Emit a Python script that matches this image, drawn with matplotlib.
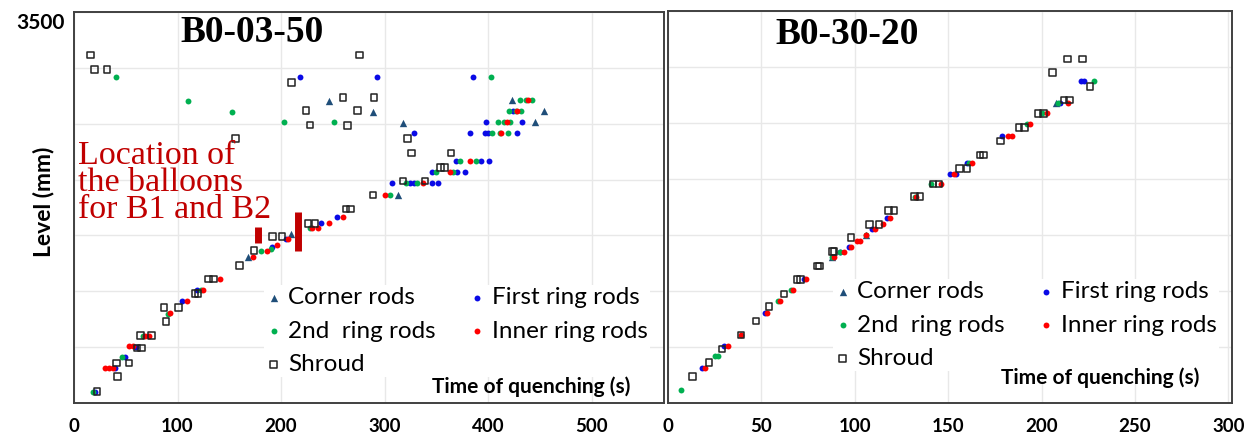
import matplotlib.pyplot as plt

# ---- B0-03-50 (left) : time of quenching (s) / level (mm) ----
corner_a_t = [168, 210, 313, 318, 246, 289, 423, 454, 445]
corner_a_z = [1304, 1512, 1862, 2503, 2706, 2607, 2712, 2613, 2512]

first_a_t = [20, 40, 49, 60, 104, 119, 191, 205, 239, 254, 307, 325, 328, 346, 352, 346,
             370, 378, 369, 393, 401, 328, 383, 397, 400, 428, 398, 433, 424, 218, 293, 385]
first_a_z = [101, 310, 414, 500, 916, 1010, 1400, 1465, 1608, 1662, 1966, 1966, 1966, 1966,
             1966, 2065, 2065, 2065, 2169, 2169, 2169, 2420, 2413, 2413, 2413, 2413, 2512,
             2512, 2613, 2920, 2920, 2920]

second_a_t = [18, 46, 67, 91, 123, 181, 190, 228, 305, 321, 331, 350, 366, 373, 388, 404, 412,
              419, 410, 415, 421, 420, 427, 432, 431, 437, 442, 403, 41, 110, 153, 203, 251]
second_a_z = [101, 414, 602, 800, 1010, 1363, 1380, 1566, 1862, 1966, 1966, 2065, 2065, 2169,
              2169, 2413, 2413, 2413, 2512, 2512, 2512, 2613, 2613, 2613, 2712, 2712, 2712,
              2920, 2920, 2706, 2607, 2512, 2515]

inner_a_t = [30, 34, 38, 53, 57, 69, 72, 93, 109, 125, 141, 173, 186, 196, 207, 230, 236, 246,
             260, 300, 337, 363, 383, 413, 418, 428, 439]
inner_a_z = [310, 310, 310, 510, 510, 602, 602, 808, 916, 1010, 1110, 1304, 1363, 1414, 1465,
             1566, 1566, 1608, 1662, 1862, 1966, 2065, 2169, 2413, 2512, 2613, 2712]

shroud_a_t = [22, 42, 41, 53, 61, 65, 64, 75, 89, 87, 101, 117, 120, 130, 135, 160, 174, 192,
              201, 226, 233, 263, 267, 289, 318, 339, 354, 358, 364, 326, 322, 16, 20, 32, 156,
              210, 276, 228, 224, 260, 264, 274, 290]
shroud_a_z = [101, 235, 358, 358, 493, 493, 602, 602, 728, 856, 856, 982, 982, 1110, 1110, 1229,
              1363, 1489, 1489, 1608, 1608, 1736, 1736, 1862, 1987, 1987, 2110, 2110, 2240, 2240,
              2369, 3115, 2987, 2987, 2369, 2867, 3115, 2488, 2616, 2736, 2485, 2616, 2736]

# balloon locations B1 / B2 (time, lower level, upper level)
balloon_t = [178, 216]
balloon_lo = [1432, 1360]
balloon_hi = [1575, 1709]

# ---- B0-30-20 (right) ----
corner_b_t = [88, 106, 208]
corner_b_z = [1301, 1500, 2676]

first_b_t = [18, 30, 52, 73, 92, 97, 109, 117, 151, 154, 160, 179, 210, 221, 223]
first_b_z = [315, 512, 806, 1104, 1351, 1396, 1551, 1649, 2045, 2045, 2140, 2385, 2676, 2878, 2878]

second_b_t = [7, 25, 27, 59, 66, 88, 92, 106, 132, 141, 161, 192, 200, 209, 228]
second_b_z = [116, 420, 420, 911, 1009, 1301, 1351, 1500, 1842, 1956, 2140, 2492, 2587, 2676, 2878]

inner_b_t = [20, 32, 39, 53, 60, 67, 74, 89, 94, 98, 101, 103, 106, 111, 115, 119, 133, 146,
             153, 163, 182, 184, 194, 203, 214]
inner_b_z = [315, 512, 607, 806, 911, 1009, 1104, 1301, 1351, 1396, 1450, 1450, 1500, 1551,
             1596, 1649, 1842, 1956, 2045, 2140, 2385, 2385, 2492, 2587, 2676]

shroud_b_t = [13, 22, 29, 39, 47, 54, 62, 69, 71, 80, 81, 88, 89, 98, 108, 113, 118, 121, 132,
              135, 142, 145, 156, 160, 167, 169, 178, 188, 191, 198, 201, 212, 215, 206, 214,
              222, 226]
shroud_b_z = [235, 360, 482, 607, 732, 860, 973, 1104, 1104, 1223, 1223, 1351, 1351, 1476, 1596,
              1596, 1717, 1717, 1842, 1842, 1956, 1956, 2092, 2092, 2215, 2215, 2340, 2460, 2460,
              2587, 2587, 2706, 2706, 2950, 3072, 3072, 2825]

SANS = 'Lato'
SERIF = 'Liberation Serif'
C_TRI = '#1f4e79'
C_BLUE = '#0a0ae6'
C_GREEN = '#00b050'
C_RED = '#ff0000'
C_RED_TXT = '#c00000'

W, H = 1252, 438
fig = plt.figure(figsize=(W / 100, H / 100), dpi=100)


def px_ax(x0, x1, y0, y1):
    return fig.add_axes([x0 / W, 1 - y1 / H, (x1 - x0) / W, (y1 - y0) / H])


def panel(ax, data, xmax, xstep):
    tri, blue, green, red, sq = data
    h_tri = ax.scatter(*tri, marker='^', s=28, color=C_TRI, lw=0, zorder=3)
    h_blue = ax.scatter(*blue, marker='o', s=18, color=C_BLUE, lw=0, zorder=3)
    h_green = ax.scatter(*green, marker='o', s=18, color=C_GREEN, lw=0, zorder=3)
    h_red = ax.scatter(*red, marker='o', s=18, color=C_RED, lw=0, zorder=3)
    h_sq = ax.scatter(*sq, marker='s', s=22, facecolor='none', edgecolor='#222222',
                      lw=1.1, zorder=4)
    ax.set_xlim(0, xmax)
    ax.set_ylim(0, 3500)
    ax.set_xticks(range(0, int(xmax) + 1, xstep))
    ax.set_yticks(range(0, 3501, 500))
    ax.set_yticklabels([])
    ax.grid(True, color='#e8e8e8', lw=1.0, zorder=0)
    ax.set_axisbelow(True)
    ax.tick_params(length=0, pad=11, labelsize=13.5)
    for lab in ax.get_xticklabels():
        lab.set_fontweight('bold')
        lab.set_fontfamily(SANS)
    for s in ax.spines.values():
        s.set_color('#404040')
        s.set_linewidth(1.4)
    return [h_tri, h_green, h_sq, h_blue, h_red]


labels = ['Corner rods', '2nd  ring rods', 'Shroud', 'First ring rods', 'Inner ring rods']
leg_kw = dict(ncol=2, loc='upper left', frameon=True, facecolor='white', edgecolor='none',
              framealpha=1, prop={'family': SANS, 'size': 17.5}, handlelength=0.6,
              handletextpad=0.3, columnspacing=1.4, labelspacing=0.5, borderpad=0.1,
              borderaxespad=0, scatterpoints=1)

# left panel
ax1 = px_ax(74, 664, 12, 403)
hs = panel(ax1, [(corner_a_t, corner_a_z), (first_a_t, first_a_z), (second_a_t, second_a_z),
                 (inner_a_t, inner_a_z), (shroud_a_t, shroud_a_z)], 570, 100)
for t, lo, hi in zip(balloon_t, balloon_lo, balloon_hi):
    ax1.plot([t, t], [lo, hi], color=C_RED_TXT, lw=5, solid_capstyle='butt', zorder=5)
ax1.legend(hs, labels, bbox_to_anchor=(190 / 590, 1 - 273 / 391), **leg_kw)
fig.text(252 / W, 1 - 32 / H, 'B0-03-50', ha='center', va='center', family=SERIF,
         fontweight='bold', fontsize=27)
fig.text(531 / W, 1 - 387 / H, 'Time of quenching (s)', ha='center', va='center', family=SANS,
         fontweight='bold', fontsize=15)
fig.text(78 / W, 1 - 141 / H, 'Location of\nthe balloons\nfor B1 and B2', ha='left', va='top',
         family=SERIF, fontsize=24.5, color=C_RED_TXT, linespacing=0.83)

# right panel
ax2 = px_ax(668, 1232, 11, 403)
hs2 = panel(ax2, [(corner_b_t, corner_b_z), (first_b_t, first_b_z), (second_b_t, second_b_z),
                  (inner_b_t, inner_b_z), (shroud_b_t, shroud_b_z)], 302, 50)
ax2.legend(hs2, labels, bbox_to_anchor=(165 / 564, 1 - 268 / 392), **leg_kw)
fig.text(847 / W, 1 - 35 / H, 'B0-30-20', ha='center', va='center', family=SERIF,
         fontweight='bold', fontsize=27)
fig.text(1100 / W, 1 - 378 / H, 'Time of quenching (s)', ha='center', va='center', family=SANS,
         fontweight='bold', fontsize=15)

# y axis annotations
fig.text(40 / W, 1 - 23 / H, '3500', ha='center', va='center', family=SANS,
         fontweight='bold', fontsize=15)
fig.text(44 / W, 1 - 202 / H, 'Level (mm)', ha='center', va='center', rotation=90,
         family=SANS, fontweight='bold', fontsize=16.5)

fig.savefig('out.png', dpi=100)
